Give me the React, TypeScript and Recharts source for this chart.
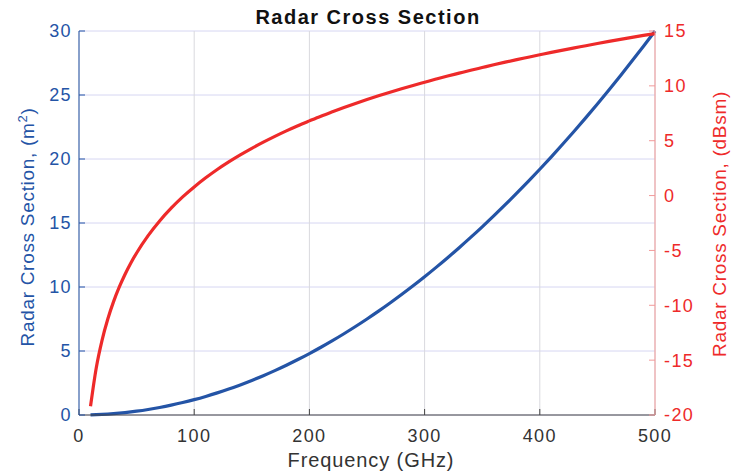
import React from "react";
import {
  LineChart,
  Line,
  XAxis,
  YAxis,
  CartesianGrid,
  Label,
} from "recharts";

// Frequency samples (GHz)
const freqs = [
  10, 15, 20, 25, 30, 35, 40, 45, 50, 60, 70, 80, 90, 100, 110, 120, 130, 140,
  150, 160, 170, 180, 190, 200, 210, 220, 230, 240, 250, 260, 270, 280, 290,
  300, 310, 320, 330, 340, 350, 360, 370, 380, 390, 400, 410, 420, 430, 440,
  450, 460, 470, 480, 490, 500,
];

// RCS in m^2
const rcsM2 = [
  0.012, 0.027, 0.048, 0.075, 0.108, 0.147, 0.192, 0.243, 0.3, 0.432, 0.588,
  0.768, 0.972, 1.2, 1.452, 1.728, 2.028, 2.352, 2.7, 3.072, 3.468, 3.888,
  4.332, 4.8, 5.292, 5.808, 6.348, 6.912, 7.5, 8.112, 8.748, 9.408, 10.092,
  10.8, 11.532, 12.288, 13.068, 13.872, 14.7, 15.552, 16.428, 17.328, 18.252,
  19.2, 20.172, 21.168, 22.188, 23.232, 24.3, 25.392, 26.508, 27.648, 28.812,
  30,
];

// RCS in dBsm
const rcsDbsm = [
  -19.21, -15.69, -13.19, -11.25, -9.67, -8.33, -7.17, -6.14, -5.23, -3.65,
  -2.31, -1.15, -0.12, 0.79, 1.62, 2.38, 3.07, 3.71, 4.31, 4.87, 5.4, 5.9,
  6.37, 6.81, 7.24, 7.64, 8.03, 8.4, 8.75, 9.09, 9.42, 9.74, 10.04, 10.33,
  10.62, 10.9, 11.16, 11.42, 11.67, 11.92, 12.16, 12.39, 12.61, 12.83, 13.05,
  13.26, 13.46, 13.66, 13.86, 14.05, 14.23, 14.42, 14.6, 14.77,
];

const xTicks = [0, 100, 200, 300, 400, 500];
const leftTicks = [0, 5, 10, 15, 20, 25, 30];
const rightTicks = [-20, -15, -10, -5, 0, 5, 10, 15];

const data = freqs.map((f, i) => ({ f, m2: rcsM2[i], db: rcsDbsm[i] }));

const BLUE = "#2454a6";
const RED = "#ee2a2a";
const FONT = "'Liberation Sans', Arial, sans-serif";

// the reference font is a bit wide, so spread the letters a little
const tickStyle = (fill: string) => ({
  fill,
  fontSize: 18,
  fontFamily: FONT,
  letterSpacing: 1.4,
});

export default function App() {
  return (
    <div style={{ width: 731, height: 475, fontFamily: FONT }}>
      <style>{`body{margin:0}`}</style>
      <LineChart
        width={731}
        height={475}
        data={data}
        margin={{ top: 31, right: 0, left: 0, bottom: 0 }}
      >
        <CartesianGrid
          yAxisId="left"
          vertical={false}
          stroke="#d6d6f2"
          strokeWidth={1}
        />
        <CartesianGrid
          yAxisId="left"
          horizontal={false}
          stroke="#d9d9de"
          strokeWidth={1}
        />
        <XAxis
          dataKey="f"
          type="number"
          domain={[0, 500]}
          ticks={xTicks}
          height={60}
          stroke="#444"
          tickSize={-6}
          tickMargin={20}
          tick={tickStyle("#333")}
        >
          <Label
            content={() => (
              <text
                x={371}
                y={467}
                textAnchor="middle"
                fill="#333"
                fontSize={20}
                letterSpacing={0.9}
                fontFamily={FONT}
              >
                Frequency (GHz)
              </text>
            )}
          />
        </XAxis>
        <XAxis
          xAxisId="top"
          orientation="top"
          dataKey="f"
          type="number"
          domain={[0, 500]}
          ticks={xTicks}
          height={0}
          stroke="#444"
          tickSize={-6}
          tickFormatter={() => ""}
        />
        <YAxis
          yAxisId="left"
          domain={[0, 30]}
          ticks={leftTicks}
          width={79}
          stroke={BLUE}
          tickSize={-6}
          tickMargin={13}
          tick={tickStyle(BLUE)}
        >
          <Label
            content={() => (
              <text
                x={34}
                y={227}
                transform="rotate(-90 34 227)"
                textAnchor="middle"
                fill={BLUE}
                fontSize={19}
                letterSpacing={0.7}
                fontFamily={FONT}
              >
                Radar Cross Section, (m
                <tspan baselineShift="super" fontSize={13}>
                  2
                </tspan>
                )
              </text>
            )}
          />
        </YAxis>
        <YAxis
          yAxisId="right"
          orientation="right"
          domain={[-20, 15]}
          ticks={rightTicks}
          width={76}
          stroke="#f29a9a"
          tickSize={-6}
          tickMargin={15}
          tick={tickStyle(RED)}
        >
          <Label
            content={() => (
              <text
                x={726}
                y={224}
                transform="rotate(-90 726 224)"
                textAnchor="middle"
                fill={RED}
                fontSize={19}
                letterSpacing={0.7}
                fontFamily={FONT}
              >
                Radar Cross Section, (dBsm)
              </text>
            )}
          />
        </YAxis>
        <Line
          yAxisId="left"
          dataKey="m2"
          type="monotone"
          stroke={BLUE}
          strokeWidth={3.2}
          dot={false}
          isAnimationActive={false}
        />
        <Line
          yAxisId="right"
          dataKey="db"
          type="monotone"
          stroke={RED}
          strokeWidth={3.2}
          dot={false}
          isAnimationActive={false}
        />
        <text
          x={368}
          y={24}
          textAnchor="middle"
          fontWeight="bold"
          fontSize={20}
          letterSpacing={1.5}
          fontFamily={FONT}
          fill="#111"
        >
          Radar Cross Section
        </text>
      </LineChart>
    </div>
  );
}
